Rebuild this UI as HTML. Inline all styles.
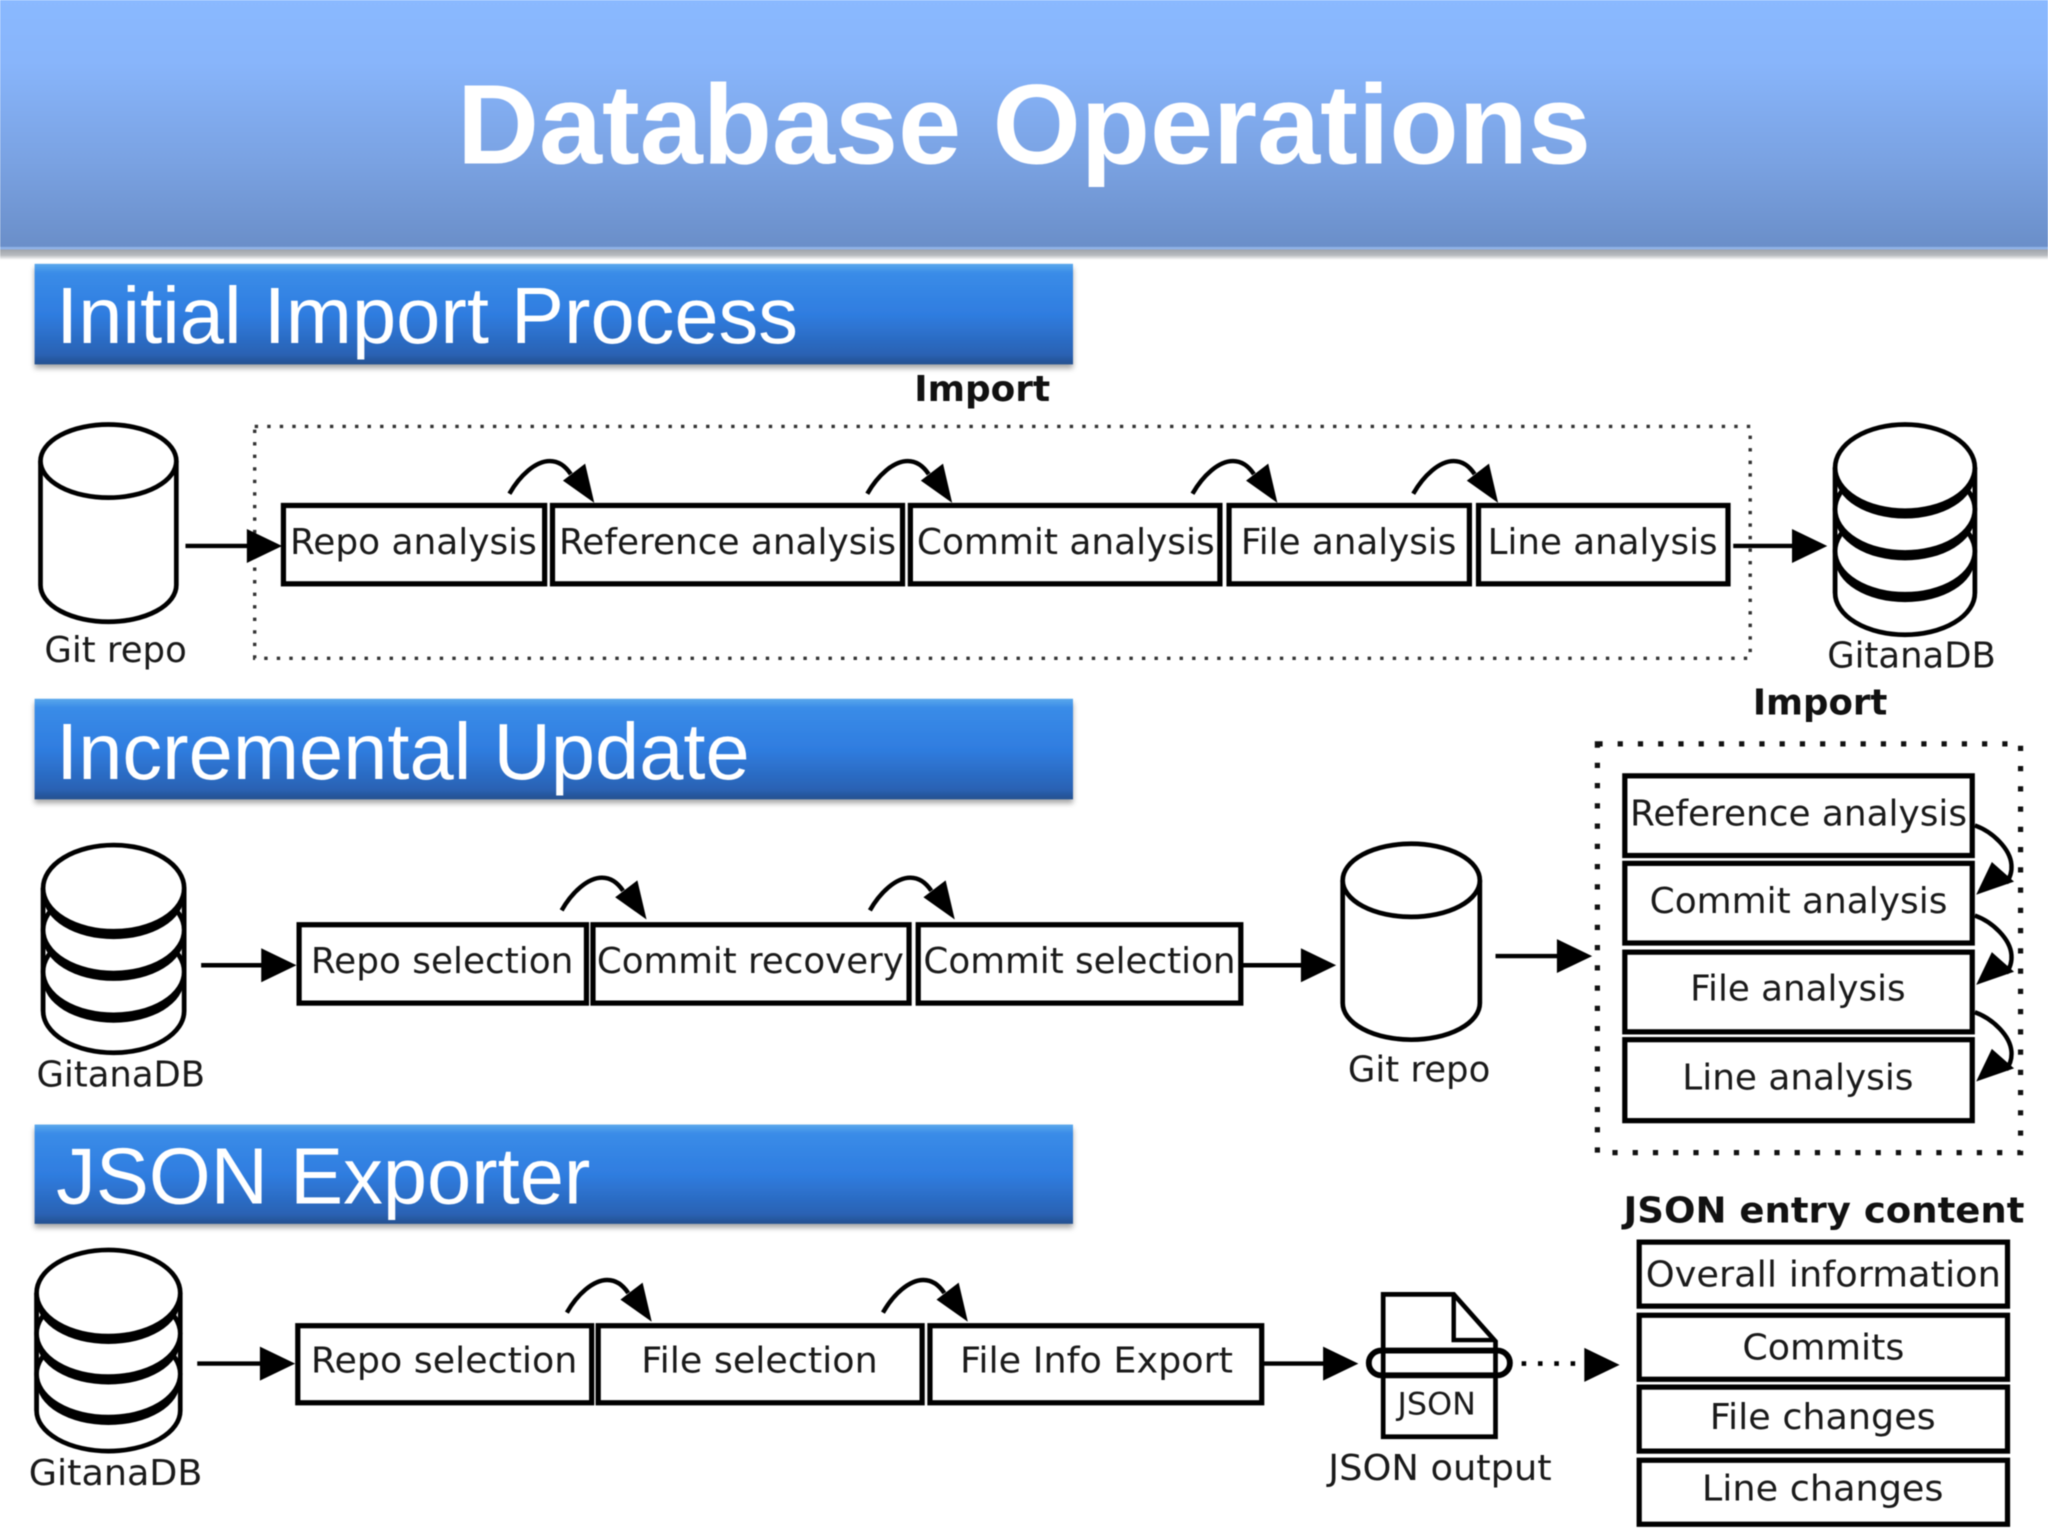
<!DOCTYPE html>
<html><head><meta charset="utf-8"><title>Database Operations</title>
<style>
html,body{margin:0;padding:0;background:#fff;width:2048px;height:1536px;overflow:hidden}
svg{display:block;filter:blur(0.6px)}
.t{font-family:"DejaVu Sans",sans-serif;font-size:27px;fill:#1a1a1a}
.b{font-family:"DejaVu Sans",sans-serif;font-size:27px;font-weight:bold;fill:#111}
.h{font-family:"Liberation Sans",sans-serif;font-size:61px;fill:#fff}
.box{fill:#fff;stroke:#000;stroke-width:4}
.ln{stroke:#000;stroke-width:3.4;fill:none}
.w{stroke:#000;stroke-width:3.6;fill:#fff}
</style></head><body>
<svg xmlns="http://www.w3.org/2000/svg" width="2048" height="1536" viewBox="0 0 1568 1176">
<defs>
<linearGradient id="hd" x1="0" y1="0" x2="0" y2="1">
<stop offset="0" stop-color="#8ab9ff"/><stop offset=".25" stop-color="#88b5fb"/><stop offset=".65" stop-color="#7aa2e2"/><stop offset="1" stop-color="#6a8ec8"/>
</linearGradient>
<linearGradient id="bar" x1="0" y1="0" x2="0" y2="1">
<stop offset="0" stop-color="#5aa8ec"/><stop offset=".09" stop-color="#3a8ce8"/><stop offset=".5" stop-color="#2f7de0"/><stop offset=".9" stop-color="#2a62b4"/><stop offset="1" stop-color="#24508f"/>
</linearGradient>
<linearGradient id="sh" x1="0" y1="0" x2="0" y2="1">
<stop offset="0" stop-color="#9a9ea6"/><stop offset=".6" stop-color="#b8bbc0"/><stop offset="1" stop-color="#fff"/>
</linearGradient>
<filter id="ds" x="-2%" y="-10%" width="104%" height="125%"><feDropShadow dx="0" dy="3" stdDeviation="2" flood-color="#000" flood-opacity=".35"/></filter>
<g id="up"><path d="M0 0C8-14 20-25 31-25C38-25 43-21 47-15" fill="none" stroke="#000" stroke-width="3.4"/><polygon points="65,7 58,-23 41,-10"/></g>
<g id="rt"><path d="M0 0C14 5 27 18 28 30C28.500 36 27 40 24 44" fill="none" stroke="#000" stroke-width="3.4"/><polygon points="1,53 30,43 13,28"/></g>
<g id="ah"><polygon points="0,-13 27,0 0,13"/></g>
</defs>

<rect width="1568" height="1176" fill="#fff"/>
<rect x="0" y="190" width="1568" height="9" fill="url(#sh)"/>
<rect width="1568" height="191" fill="url(#hd)"/>
<rect y="189" width="1568" height="2" fill="#8fb2e6"/>
<text x="350" y="125" textLength="868" lengthAdjust="spacingAndGlyphs" style="font-family:'Liberation Sans',sans-serif;font-weight:bold;font-size:87px;fill:#fff">Database Operations</text>

<rect x="26.500" y="202" width="795" height="77" fill="url(#bar)" filter="url(#ds)"/>
<text class="h" x="43" y="262.500" textLength="568" lengthAdjust="spacingAndGlyphs">Initial Import Process</text>
<rect x="26.500" y="535" width="795" height="77" fill="url(#bar)" filter="url(#ds)"/>
<text class="h" x="43" y="596.500" textLength="531" lengthAdjust="spacingAndGlyphs">Incremental Update</text>
<rect x="26.500" y="861" width="795" height="76" fill="url(#bar)" filter="url(#ds)"/>
<text class="h" x="43" y="921.500" textLength="409" lengthAdjust="spacingAndGlyphs">JSON Exporter</text>

<!-- Section 1 -->
<text class="b" x="700" y="307" textLength="104" lengthAdjust="spacingAndGlyphs">Import</text>
<rect x="195" y="326.500" width="1145" height="177.500" fill="none" stroke="#333" stroke-width="2.6" stroke-dasharray="2.6 7"/>
<path class="w" d="M31 353V448A52 28 0 0 0 135 448V353"/>
<ellipse class="w" cx="83" cy="353" rx="52" ry="28"/>
<text class="t" x="34" y="507" textLength="109" lengthAdjust="spacingAndGlyphs">Git repo</text>
<line class="ln" x1="142" y1="418" x2="190" y2="418"/>
<use href="#ah" x="189" y="418"/>
<rect class="box" x="217" y="387" width="200" height="60"/>
<rect class="box" x="423" y="387" width="268" height="60"/>
<rect class="box" x="697" y="387" width="237" height="60"/>
<rect class="box" x="941" y="387" width="184" height="60"/>
<rect class="box" x="1132" y="387" width="191" height="60"/>
<text class="t" x="222" y="424" textLength="189" lengthAdjust="spacingAndGlyphs">Repo analysis</text>
<text class="t" x="428" y="424" textLength="258" lengthAdjust="spacingAndGlyphs">Reference analysis</text>
<text class="t" x="702" y="424" textLength="228" lengthAdjust="spacingAndGlyphs">Commit analysis</text>
<text class="t" x="950" y="424" textLength="165" lengthAdjust="spacingAndGlyphs">File analysis</text>
<text class="t" x="1139" y="424" textLength="176" lengthAdjust="spacingAndGlyphs">Line analysis</text>
<use href="#up" x="390" y="378"/><use href="#up" x="664" y="378"/><use href="#up" x="913" y="378"/><use href="#up" x="1082" y="378"/>
<line class="ln" x1="1327" y1="418" x2="1374" y2="418"/>
<use href="#ah" x="1372" y="418"/>

<!-- DB right -->
<g>
<path class="w" d="M1405 358V454A53.500 32 0 0 0 1512 454V358"/>
<ellipse cx="1458.500" cy="428" rx="53.500" ry="33"/><ellipse class="w" cx="1458.500" cy="422" rx="53.500" ry="33"/>
<ellipse cx="1458.500" cy="396" rx="53.500" ry="33"/><ellipse class="w" cx="1458.500" cy="390" rx="53.500" ry="33"/>
<ellipse cx="1458.500" cy="364" rx="53.500" ry="33"/><ellipse class="w" cx="1458.500" cy="358" rx="53.500" ry="33"/>
<path class="ln" d="M1405 358V454M1512 358V454"/>
</g>
<text class="t" x="1399" y="511" textLength="129" lengthAdjust="spacingAndGlyphs">GitanaDB</text>

<!-- Section 2 -->
<g>
<path class="w" d="M33 680V774A54 32 0 0 0 141 774V680"/>
<ellipse cx="87" cy="750" rx="54" ry="33"/><ellipse class="w" cx="87" cy="744" rx="54" ry="33"/>
<ellipse cx="87" cy="718" rx="54" ry="33"/><ellipse class="w" cx="87" cy="712" rx="54" ry="33"/>
<ellipse cx="87" cy="686" rx="54" ry="33"/><ellipse class="w" cx="87" cy="680" rx="54" ry="33"/>
<path class="ln" d="M33 680V774M141 680V774"/>
</g>
<text class="t" x="28" y="832" textLength="129" lengthAdjust="spacingAndGlyphs">GitanaDB</text>
<line class="ln" x1="154" y1="739" x2="202" y2="739"/>
<use href="#ah" x="200" y="739"/>
<rect class="box" x="229" y="708" width="220" height="60"/>
<rect class="box" x="454" y="708" width="242" height="60"/>
<rect class="box" x="703" y="708" width="247" height="60"/>
<text class="t" x="238" y="745" textLength="201" lengthAdjust="spacingAndGlyphs">Repo selection</text>
<text class="t" x="457" y="745" textLength="235" lengthAdjust="spacingAndGlyphs">Commit recovery</text>
<text class="t" x="707" y="745" textLength="239" lengthAdjust="spacingAndGlyphs">Commit selection</text>
<use href="#up" x="430" y="697"/><use href="#up" x="666" y="697"/>
<line class="ln" x1="950" y1="739" x2="998" y2="739"/>
<use href="#ah" x="996" y="739"/>
<path class="w" d="M1028 674V768A52.500 28 0 0 0 1133 768V674"/>
<ellipse class="w" cx="1080.500" cy="674" rx="52.500" ry="28"/>
<text class="t" x="1032" y="828" textLength="109" lengthAdjust="spacingAndGlyphs">Git repo</text>
<line class="ln" x1="1145" y1="732" x2="1194" y2="732"/>
<use href="#ah" x="1192" y="732"/>

<!-- Import vertical -->
<text class="b" x="1342" y="547" textLength="103" lengthAdjust="spacingAndGlyphs">Import</text>
<rect x="1223" y="569.500" width="324" height="313" fill="none" stroke="#111" stroke-width="4" stroke-dasharray="4 11.500"/>
<rect class="box" x="1244" y="594" width="266" height="61"/>
<rect class="box" x="1244" y="661" width="266" height="61"/>
<rect class="box" x="1244" y="729" width="266" height="61"/>
<rect class="box" x="1244" y="796" width="266" height="62"/>
<text class="t" x="1248" y="632" textLength="258" lengthAdjust="spacingAndGlyphs">Reference analysis</text>
<text class="t" x="1263" y="699" textLength="228" lengthAdjust="spacingAndGlyphs">Commit analysis</text>
<text class="t" x="1294" y="766" textLength="165" lengthAdjust="spacingAndGlyphs">File analysis</text>
<text class="t" x="1288" y="834" textLength="177" lengthAdjust="spacingAndGlyphs">Line analysis</text>
<use href="#rt" x="1512" y="632"/><use href="#rt" x="1512" y="701"/><use href="#rt" x="1512" y="775"/>

<!-- Section 3 -->
<g>
<path class="w" d="M28 990V1080A55 31 0 0 0 138 1080V990"/>
<ellipse cx="83" cy="1058" rx="55" ry="33"/><ellipse class="w" cx="83" cy="1052" rx="55" ry="33"/>
<ellipse cx="83" cy="1027" rx="55" ry="33"/><ellipse class="w" cx="83" cy="1021" rx="55" ry="33"/>
<ellipse cx="83" cy="996" rx="55" ry="33"/><ellipse class="w" cx="83" cy="990" rx="55" ry="33"/>
<path class="ln" d="M28 990V1080M138 990V1080"/>
</g>
<text class="t" x="22" y="1137" textLength="133" lengthAdjust="spacingAndGlyphs">GitanaDB</text>
<line class="ln" x1="151" y1="1044" x2="201" y2="1044"/>
<use href="#ah" x="199" y="1044"/>
<rect class="box" x="228" y="1015" width="225" height="59"/>
<rect class="box" x="458" y="1015" width="248" height="59"/>
<rect class="box" x="712" y="1015" width="254" height="59"/>
<text class="t" x="238" y="1051" textLength="204" lengthAdjust="spacingAndGlyphs">Repo selection</text>
<text class="t" x="491" y="1051" textLength="181" lengthAdjust="spacingAndGlyphs">File selection</text>
<text class="t" x="735" y="1051" textLength="209" lengthAdjust="spacingAndGlyphs">File Info Export</text>
<use href="#up" x="434" y="1005"/><use href="#up" x="676" y="1005"/>
<line class="ln" x1="966" y1="1044" x2="1015" y2="1044"/>
<use href="#ah" x="1013" y="1044"/>
<path class="w" d="M1059 991H1113L1145 1027V1100H1059Z"/>
<path class="ln" d="M1113 991V1026H1145"/>
<rect x="1048" y="1034" width="108" height="19" rx="9.500" fill="none" stroke="#000" stroke-width="4.500"/>
<text class="t" style="font-size:24px" x="1070" y="1083" textLength="60" lengthAdjust="spacingAndGlyphs">JSON</text>
<text class="t" x="1017" y="1133" textLength="171" lengthAdjust="spacingAndGlyphs">JSON output</text>
<line x1="1165" y1="1044" x2="1208" y2="1044" stroke="#000" stroke-width="3.500" stroke-dasharray="3.500 9"/>
<use href="#ah" x="1213" y="1045"/>

<text class="b" x="1243" y="936" textLength="307" lengthAdjust="spacingAndGlyphs">JSON entry content</text>
<rect class="box" x="1255" y="951" width="282" height="49"/>
<rect class="box" x="1255" y="1007" width="282" height="49"/>
<rect class="box" x="1255" y="1062" width="282" height="49"/>
<rect class="box" x="1255" y="1118" width="282" height="49"/>
<text class="t" x="1260" y="985" textLength="272" lengthAdjust="spacingAndGlyphs">Overall information</text>
<text class="t" x="1334" y="1041" textLength="124" lengthAdjust="spacingAndGlyphs">Commits</text>
<text class="t" x="1309" y="1094" textLength="173" lengthAdjust="spacingAndGlyphs">File changes</text>
<text class="t" x="1303" y="1149" textLength="185" lengthAdjust="spacingAndGlyphs">Line changes</text>
</svg>
</body></html>
